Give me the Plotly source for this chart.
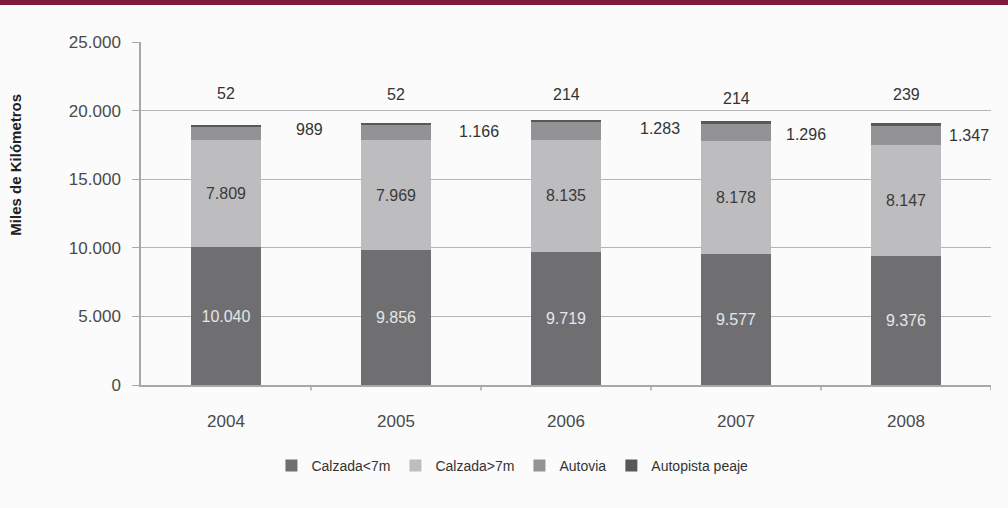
import plotly.graph_objects as go

years = ["2004", "2005", "2006", "2007", "2008"]
calzada_lt7 = [10040, 9856, 9719, 9577, 9376]
calzada_gt7 = [7809, 7969, 8135, 8178, 8147]
autovia = [989, 1166, 1283, 1296, 1347]
autopista = [52, 52, 214, 214, 239]

series_names = ["Calzada<7m", "Calzada>7m", "Autovia", "Autopista peaje"]
colors = ["#6f6f72", "#bdbdbf", "#939395", "#58585a"]

# label placement (layout only): x offset in category units, y in axis units
autovia_lbl_dx = [0.49, 0.49, 0.55, 0.41, 0.37]
autovia_lbl_y = [18590, 18510, 18730, 18290, 18220]
autopista_lbl_y = [21280, 21140, 21140, 20850, 21140]

FONT = "Liberation Sans, Arial, sans-serif"

fig = go.Figure()
x_idx = list(range(len(years)))

fig.add_trace(go.Bar(
    x=x_idx, y=calzada_lt7, name=series_names[0], marker=dict(color=colors[0], line=dict(width=0)),
    width=0.41, texttemplate="%{y:,d}", textposition="inside", insidetextanchor="middle",
    textfont=dict(color="#e6e6e6", size=16, family=FONT), textangle=0,
))
fig.add_trace(go.Bar(
    x=x_idx, y=calzada_gt7, name=series_names[1], marker=dict(color=colors[1], line=dict(width=0)),
    width=0.41, texttemplate="%{y:,d}", textposition="inside", insidetextanchor="middle",
    textfont=dict(color="#3a3a3a", size=16, family=FONT), textangle=0,
))
fig.add_trace(go.Bar(
    x=x_idx, y=autovia, name=series_names[2], marker=dict(color=colors[2], line=dict(width=0)),
    width=0.41, textposition="none",
))
fig.add_trace(go.Bar(
    x=x_idx, y=autopista, name=series_names[3], marker=dict(color=colors[3], line=dict(width=0)),
    width=0.41, textposition="none",
))

annotations = []
for i in x_idx:
    annotations.append(dict(
        x=i + autovia_lbl_dx[i], y=autovia_lbl_y[i], xref="x", yref="y",
        text=f"{autovia[i]:,}".replace(",", "."),
        showarrow=False, font=dict(size=16, color="#333333", family=FONT),
    ))
    annotations.append(dict(
        x=i, y=autopista_lbl_y[i], xref="x", yref="y",
        text=f"{autopista[i]:,}".replace(",", "."),
        showarrow=False, font=dict(size=16, color="#333333", family=FONT),
    ))

annotations.append(dict(
    x=-0.16, y=0.641, xref="paper", yref="paper", text="<b>Miles de Kilómetros</b>",
    textangle=-90, showarrow=False, font=dict(size=15, color="#222222", family=FONT),
))

fig.update_layout(
    width=1008, height=508,
    margin=dict(l=141, r=17, t=42, b=123),
    paper_bgcolor="#fbfbfb", plot_bgcolor="#fbfbfb",
    barmode="stack",
    separators=",.",
    font=dict(family=FONT, color="#444444", size=13),
    showlegend=True,
    legend=dict(orientation="h", x=0.437, xanchor="center", y=-0.236, yanchor="middle",
                font=dict(size=14, color="#333333", family=FONT), bgcolor="rgba(0,0,0,0)",
                traceorder="normal"),
    annotations=annotations,
    shapes=[dict(type="rect", xref="paper", yref="paper", x0=-0.2, x1=1.05,
                 y0=(385 - 5) / 343, y1=(385 + 2) / 343, fillcolor="#7d1a3e",
                 line=dict(width=0), layer="above")],
)

fig.update_xaxes(
    range=[-0.5, 4.5], tickmode="array", tickvals=x_idx, ticktext=years,
    showline=True, linecolor="#a8a8a8", linewidth=1.5,
    ticks="", showgrid=False, zeroline=False, ticklabelstandoff=20,
    tickfont=dict(size=17, color="#4a4a4a"),
)
fig.update_yaxes(
    range=[0, 25000], dtick=5000, tickformat=",d",
    showline=True, linecolor="#a8a8a8", linewidth=1.5,
    ticks="outside", ticklen=7, tickcolor="#a8a8a8", ticklabelstandoff=8,
    showgrid=True, gridcolor="#b4b4b4", gridwidth=1.2, zeroline=False,
    tickfont=dict(size=17, color="#4a4a4a"),
)

# category boundary ticks on x axis
for b in [0.5, 1.5, 2.5, 3.5, 4.5]:
    fig.add_shape(type="line", xref="x", yref="paper", x0=b, x1=b, y0=0, y1=-0.016,
                  line=dict(color="#a8a8a8", width=1.5))

fig.write_html("out.html", config={"displayModeBar": False},
               post_script="document.body.style.margin='0';")
